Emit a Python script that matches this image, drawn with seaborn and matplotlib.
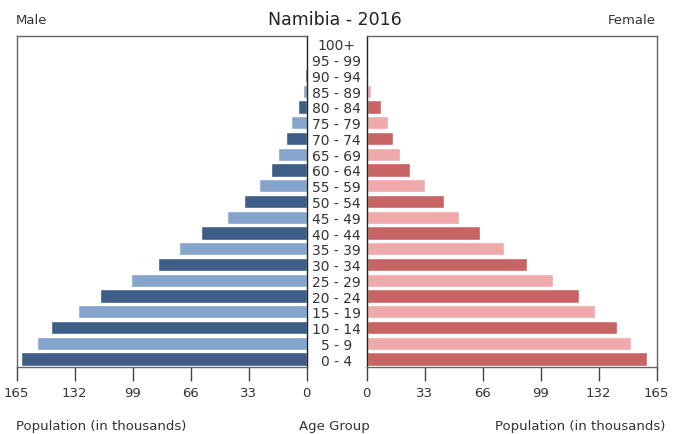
import matplotlib
matplotlib.use("Agg")
import matplotlib.pyplot as plt
import seaborn as sns
import pandas as pd

age_groups = ["100+", "95 - 99", "90 - 94", "85 - 89", "80 - 84", "75 - 79", "70 - 74",
              "65 - 69", "60 - 64", "55 - 59", "50 - 54", "45 - 49", "40 - 44", "35 - 39",
              "30 - 34", "25 - 29", "20 - 24", "15 - 19", "10 - 14", "5 - 9", "0 - 4"]
male = [0.1, 0.3, 0.8, 2.1, 5.1, 8.9, 11.9, 16.1, 20.5, 27.3, 35.8, 45.2, 60.0, 72.8,
        84.6, 100.1, 117.4, 130.1, 145.7, 153.6, 162.7]
female = [0.2, 0.4, 1.0, 2.5, 8.2, 12.3, 15.0, 19.2, 24.8, 33.4, 43.8, 52.5, 64.3, 78.3,
          91.4, 106.2, 121.0, 130.1, 142.4, 150.4, 159.3]
ticks = [0, 33, 66, 99, 132, 165]

male_dark, male_light = "#3f5e87", "#86a5cc"
fem_dark, fem_light = "#c86464", "#f0a9aa"
n = len(age_groups)
# alternate: 0-4 (last) is dark
male_pal = [male_dark if (n - 1 - i) % 2 == 0 else male_light for i in range(n)]
fem_pal = [fem_dark if (n - 1 - i) % 2 == 0 else fem_light for i in range(n)]

df = pd.DataFrame({"age": age_groups, "male": male, "female": female})

sns.set_style("white")
plt.rcParams["font.family"] = ["DejaVu Sans"]
txt = "#333333"

fig = plt.figure(figsize=(6.78, 4.35), dpi=100)
W, H = 678, 435
axL = fig.add_axes([16.7 / W, 1 - 368 / H, 290 / W, (368 - 37) / H])
axR = fig.add_axes([366.7 / W, 1 - 368 / H, 290 / W, (368 - 37) / H])

sns.barplot(data=df, y="age", x="male", hue="age", palette=male_pal, order=age_groups,
            hue_order=age_groups, legend=False, ax=axL, width=0.84, saturation=1)
sns.barplot(data=df, y="age", x="female", hue="age", palette=fem_pal, order=age_groups,
            hue_order=age_groups, legend=False, ax=axR, width=0.84, saturation=1)

axL.set_xlim(165, 0)
axR.set_xlim(0, 165)
for ax in (axL, axR):
    ax.set_ylim(n - 0.5, -0.5)
    ax.set_xticks(ticks)
    ax.set_xticklabels([str(t) for t in ticks])
    ax.set_xlabel("")
    ax.set_ylabel("")
    ax.tick_params(axis="x", direction="out", length=10, width=1, color="#444444",
                   labelsize=9.5, labelcolor=txt, pad=4, bottom=True)
    for s in ax.spines.values():
        s.set_color("#666666")
        s.set_linewidth(1.0)

axL.set_yticks([])
axL.spines["right"].set_color("#222222")
axR.set_yticks(range(n))
axR.set_yticklabels(age_groups)
axR.tick_params(axis="y", length=0, pad=21.7, labelsize=10, labelcolor=txt, left=True)
for lab in axR.get_yticklabels():
    lab.set_horizontalalignment("center")
axR.spines["left"].set_color("#222222")

fig.text(335 / W, 1 - 20 / H, "Namibia - 2016", ha="center", va="center", fontsize=12.5, color="#222222")
fig.text(16 / W, 1 - 21 / H, "Male", ha="left", va="center", fontsize=9.5, color=txt)
fig.text(656 / W, 1 - 21 / H, "Female", ha="right", va="center", fontsize=9.5, color=txt)
fig.text(16 / W, 1 - 427 / H, "Population (in thousands)", ha="left", va="center", fontsize=9.5, color=txt)
fig.text(334 / W, 1 - 427 / H, "Age Group", ha="center", va="center", fontsize=9.5, color=txt)
fig.text(665 / W, 1 - 427 / H, "Population (in thousands)", ha="right", va="center", fontsize=9.5, color=txt)

fig.savefig("out.png", dpi=100)
